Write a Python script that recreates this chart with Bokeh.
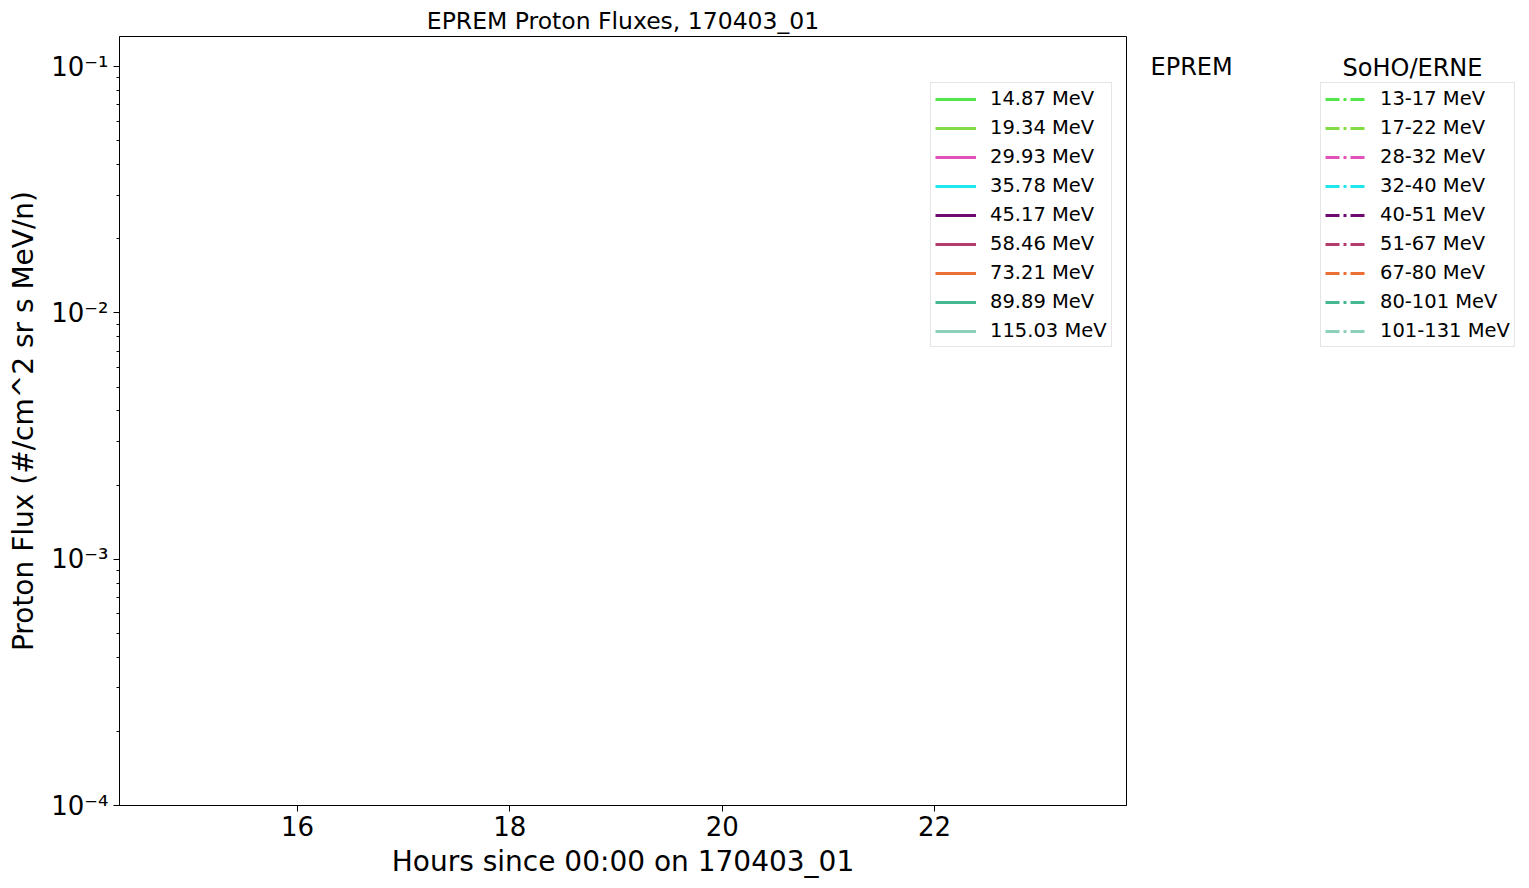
from bokeh.plotting import figure
from bokeh.layouts import row
from bokeh.models import (Range1d, FixedTicker, CustomJSTickFormatter, Legend, LegendItem,
                          Label, ColumnDataSource)
from bokeh.embed import file_html
from bokeh.resources import INLINE

# ---- data -------------------------------------------------------------
title_text = "EPREM Proton Fluxes, 170403_01"
x_label = "Hours since 00:00 on 170403_01"
y_label = "Proton Flux (#/cm^2 sr s MeV/n)"

# time span of the run (hours); no flux values fall inside the plotted range
hours = [14.75, 23.38]
nan = float("nan")

eprem_labels = ["14.87 MeV", "19.34 MeV", "29.93 MeV", "35.78 MeV", "45.17 MeV",
                "58.46 MeV", "73.21 MeV", "89.89 MeV", "115.03 MeV"]
erne_labels = ["13-17 MeV", "17-22 MeV", "28-32 MeV", "32-40 MeV", "40-51 MeV",
               "51-67 MeV", "67-80 MeV", "80-101 MeV", "101-131 MeV"]
series_colors = ["#52e64a", "#84dc44", "#e052b8", "#1ee6ee", "#6e0a72",
                 "#b43c6c", "#ea7036", "#44b890", "#8ed0b8"]

eprem_flux = [[nan, nan] for _ in eprem_labels]
erne_flux = [[nan, nan] for _ in erne_labels]

x_ticks = [16, 18, 20, 22]
y_ticks = [1e-4, 1e-3, 1e-2, 1e-1]

# ---- main figure ------------------------------------------------------
FONT = "DejaVu Sans"
x_start, x_end = 14.323, 23.808
y_start, y_end = 1e-4, 0.1324
H = 880
W1 = 1130
W2 = 390
TOP, BOT = 36, 806  # frame edges (page pixels)

p = figure(width=W1, height=H, output_backend="svg", toolbar_location=None,
           y_axis_type="log", x_range=Range1d(x_start, x_end), y_range=Range1d(y_start, y_end),
           min_border_left=119, min_border_right=4, min_border_top=TOP, min_border_bottom=H - BOT,
           title=title_text)

p.title.text_font = FONT
p.title.text_font_size = "23.5px"
p.title.text_font_style = "normal"
p.title.align = "center"
p.title.text_color = "black"
p.title.standoff = 4

p.grid.grid_line_color = None
p.outline_line_color = "black"
p.outline_line_alpha = 1
p.outline_line_width = 1
p.background_fill_color = "white"
p.border_fill_color = "white"

for ax in (p.xaxis[0], p.yaxis[0]):
    ax.axis_line_color = "black"
    ax.major_tick_line_color = "black"
    ax.minor_tick_line_color = "black"
    ax.major_tick_in = 0
    ax.major_tick_out = 6
    ax.minor_tick_in = 0
    ax.minor_tick_out = 3
    ax.major_label_text_font = FONT
    ax.major_label_text_font_size = "26px"
    ax.major_label_text_color = "black"
    ax.axis_label_text_font = FONT
    ax.axis_label_text_font_size = "28px"
    ax.axis_label_text_font_style = "normal"
    ax.axis_label_text_color = "black"

p.xaxis.ticker = FixedTicker(ticks=x_ticks)
p.xaxis.minor_tick_line_color = None
p.xaxis.axis_label = x_label
p.xaxis.major_label_standoff = 4
p.xaxis.axis_label_standoff = 6

minor = [m * t for t in y_ticks[:-1] for m in range(2, 10)] + [2 * y_ticks[-1]]
p.yaxis.ticker = FixedTicker(ticks=y_ticks, minor_ticks=minor)
p.yaxis.formatter = CustomJSTickFormatter(code="""
const sup = {"-":"\u207b","0":"\u2070","1":"\u00b9","2":"\u00b2","3":"\u00b3","4":"\u2074",
             "5":"\u2075","6":"\u2076","7":"\u2077","8":"\u2078","9":"\u2079"};
const e = Math.round(Math.log10(tick));
return "10" + String(e).split("").map(c => sup[c]).join("");
""")
p.yaxis.axis_label = y_label
p.yaxis.major_label_standoff = 5
p.yaxis.axis_label_standoff = 8


def make_legend(items, loc):
    return Legend(items=items, location=loc, label_text_font=FONT, label_text_font_size="19.5px",
                  label_text_color="black", glyph_width=41, glyph_height=20, label_height=20,
                  label_standoff=14, spacing=6, padding=4, margin=0,
                  border_line_color="#cccccc", border_line_width=1,
                  background_fill_color="white", background_fill_alpha=0.8)


eprem_items = []
for lab, col, fl in zip(eprem_labels, series_colors, eprem_flux):
    r = p.line(x="x", y="y", source=ColumnDataSource(dict(x=hours, y=fl)),
               line_color=col, line_width=3)
    eprem_items.append(LegendItem(label=lab, renderers=[r]))

# legend 1 sits inside the frame (offsets relative to frame bottom-left)
p.add_layout(make_legend(eprem_items, (930 - 119, BOT - 348)))

# ---- side panel with the ERNE legend and legend titles ------------------
# its frame is aligned with the main frame (rows align top/bottom borders)
FH = BOT - TOP
p2 = figure(width=W2, height=H, output_backend="svg", toolbar_location=None,
            x_range=Range1d(0, W2), y_range=Range1d(0, FH),
            x_axis_location=None, y_axis_location=None,
            min_border_left=0, min_border_right=0,
            min_border_top=TOP, min_border_bottom=H - BOT)
p2.grid.grid_line_color = None
p2.outline_line_color = None
p2.background_fill_color = "white"
p2.border_fill_color = "white"

erne_items = []
for lab, col, fl in zip(erne_labels, series_colors, erne_flux):
    r = p2.line(x="x", y="y", source=ColumnDataSource(dict(x=hours, y=fl)),
                line_color=col, line_width=3, line_dash="14 4 3 4")
    erne_items.append(LegendItem(label=lab, renderers=[r]))

p2.add_layout(make_legend(erne_items, (1320 - W1, BOT - 348)))

p2.add_layout(Label(x=1150 - W1, y=BOT - 67, text="EPREM", text_font=FONT, text_font_size="24px",
                    text_baseline="middle", text_align="left", text_color="black"))
p2.add_layout(Label(x=1412 - W1, y=BOT - 68, text="SoHO/ERNE", text_font=FONT, text_font_size="24px",
                    text_baseline="middle", text_align="center", text_color="black"))

layout = row(p, p2, spacing=0)
open("out.html", "w").write(file_html(layout, INLINE))
